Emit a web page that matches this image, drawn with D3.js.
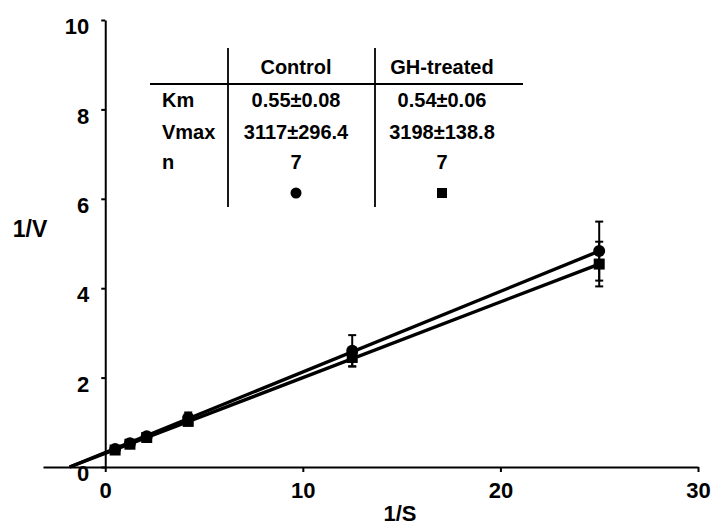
<!DOCTYPE html>
<html>
<head>
<meta charset="utf-8">
<script src="https://cdn.jsdelivr.net/npm/d3@7"></script>
<style>
  body { margin: 0; background: #fff; }
  svg { display: block; font-family: "Liberation Sans", Arial, sans-serif; font-weight: bold; }
</style>
</head>
<body>
<div id="wrapper"></div>
<script>
// Lineweaver-Burk data
const invS = [0.5, 1.25, 2.1, 4.2, 12.5, 25]
const controlV = [0.40, 0.53, 0.69, 1.10, 2.60, 4.83]
const controlErr = [0.03, 0.04, 0.05, 0.12, 0.35, 0.66]
const ghV = [0.38, 0.51, 0.66, 1.02, 2.45, 4.54]
const ghErr = [0.03, 0.03, 0.05, 0.08, 0.20, 0.50]
// fitted lines, [x, y] endpoints
const controlLine = [[-1.8, 0], [25, 4.83]]
const ghLine = [[-1.8, 0], [25, 4.54]]

const xTicks = [0, 10, 20, 30]
const yTicks = [0, 2, 4, 6, 8, 10]

const tableCols = ["Control", "GH-treated"]
const tableRows = ["Km", "Vmax", "n"]
const controlStats = ["0.55\u00b10.08", "3117\u00b1296.4", "7"]
const ghStats = ["0.54\u00b10.06", "3198\u00b1138.8", "7"]

const width = 712
const height = 527

const svg = d3.select("#wrapper")
  .append("svg")
  .attr("width", width)
  .attr("height", height)

const xScale = d3.scaleLinear()
  .domain([-3.15, 30])
  .range([43, 698])
const yScale = d3.scaleLinear()
  .domain([0, 10])
  .range([467, 20])

// axes
const xAxis = svg.append("g")
  .attr("transform", `translate(0, ${yScale(0)})`)
  .call(d3.axisBottom(xScale).tickValues(xTicks).tickSize(5).tickSizeOuter(0).tickPadding(10))
xAxis.select(".domain").attr("stroke-width", 2)
xAxis.selectAll(".tick line").attr("stroke-width", 2)
xAxis.selectAll(".tick text")
  .attr("font-size", 22)
  .attr("font-family", "Liberation Sans, Arial, sans-serif")
  .attr("font-weight", "bold")

const yAxis = svg.append("g")
  .attr("transform", `translate(${xScale(0)}, 0)`)
  .call(d3.axisLeft(yScale).tickValues(yTicks).tickSize(4).tickSizeOuter(0).tickPadding(12))
yAxis.select(".domain").attr("stroke-width", 2)
yAxis.selectAll(".tick line").attr("stroke-width", 2)
yAxis.selectAll(".tick text")
  .attr("font-size", 22)
  .attr("font-family", "Liberation Sans, Arial, sans-serif")
  .attr("font-weight", "bold")
  .attr("dy", "0.62em")

svg.append("text")
  .attr("x", 30)
  .attr("y", 237)
  .attr("text-anchor", "middle")
  .attr("font-size", 23)
  .text("1/V")
svg.append("text")
  .attr("x", 400)
  .attr("y", 521)
  .attr("text-anchor", "middle")
  .attr("font-size", 22)
  .text("1/S")

// fitted lines
const lineGenerator = d3.line()
  .x(d => xScale(d[0]))
  .y(d => yScale(d[1]))
;[controlLine, ghLine].forEach(l => {
  svg.append("path")
    .attr("d", lineGenerator(l))
    .attr("fill", "none")
    .attr("stroke", "black")
    .attr("stroke-width", 3.4)
})

// error bars
function drawErrors(vals, errs) {
  const g = svg.append("g").attr("stroke", "black").attr("stroke-width", 2)
  invS.forEach((x, i) => {
    const cx = xScale(x)
    const y0 = yScale(vals[i] - errs[i])
    const y1 = yScale(vals[i] + errs[i])
    g.append("line").attr("x1", cx).attr("x2", cx).attr("y1", y0).attr("y2", y1)
    g.append("line").attr("x1", cx - 4).attr("x2", cx + 4).attr("y1", y0).attr("y2", y0)
    g.append("line").attr("x1", cx - 4).attr("x2", cx + 4).attr("y1", y1).attr("y2", y1)
  })
}
drawErrors(controlV, controlErr)
drawErrors(ghV, ghErr)

svg.selectAll("circle.ctrl")
  .data(invS)
  .enter().append("circle")
  .attr("class", "ctrl")
  .attr("cx", d => xScale(d))
  .attr("cy", (d, i) => yScale(controlV[i]))
  .attr("r", 6)
  .attr("fill", "black")

svg.selectAll("rect.gh")
  .data(invS)
  .enter().append("rect")
  .attr("class", "gh")
  .attr("x", d => xScale(d) - 5.5)
  .attr("y", (d, i) => yScale(ghV[i]) - 5.5)
  .attr("width", 11)
  .attr("height", 11)
  .attr("fill", "black")

// inset table
const table = svg.append("g")
const colX = [296, 442]
const rowY = [107, 139, 169]

table.append("line")
  .attr("x1", 150).attr("x2", 523)
  .attr("y1", 84).attr("y2", 84)
  .attr("stroke", "black").attr("stroke-width", 1.8)
;[228, 375].forEach(x => {
  table.append("line")
    .attr("x1", x).attr("x2", x)
    .attr("y1", 48).attr("y2", 207)
    .attr("stroke", "black").attr("stroke-width", 1.8)
})

table.selectAll("text.head")
  .data(tableCols)
  .enter().append("text")
  .attr("class", "head")
  .attr("x", (d, i) => colX[i])
  .attr("y", 74)
  .attr("text-anchor", "middle")
  .attr("font-size", 20)
  .text(d => d)

table.selectAll("text.row")
  .data(tableRows)
  .enter().append("text")
  .attr("class", "row")
  .attr("x", 162)
  .attr("y", (d, i) => rowY[i])
  .attr("font-size", 20)
  .text(d => d)

;[controlStats, ghStats].forEach((col, c) => {
  table.selectAll(null)
    .data(col)
    .enter().append("text")
    .attr("x", colX[c])
    .attr("y", (d, i) => rowY[i])
    .attr("text-anchor", "middle")
    .attr("font-size", 20)
    .text(d => d)
})

table.append("circle")
  .attr("cx", colX[0]).attr("cy", 193).attr("r", 5.5).attr("fill", "black")
table.append("rect")
  .attr("x", colX[1] - 5).attr("y", 188).attr("width", 10).attr("height", 10).attr("fill", "black")
</script>
</body>
</html>
